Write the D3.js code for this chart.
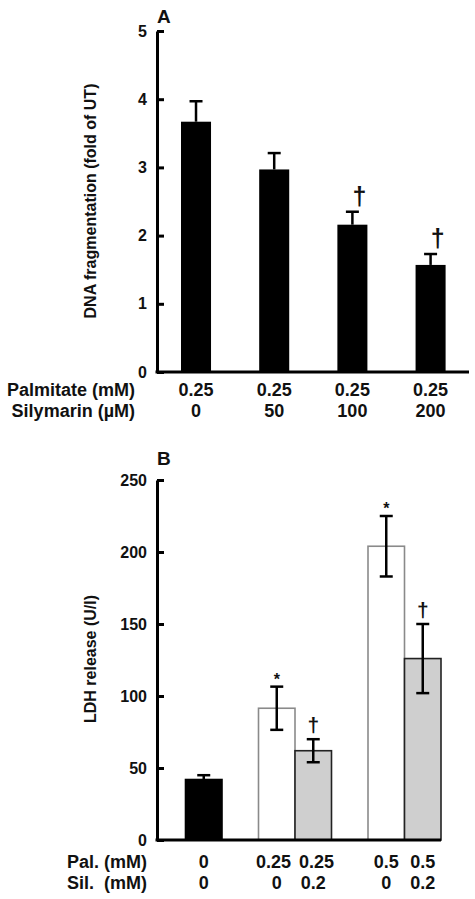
<!DOCTYPE html>
<html>
<head>
<meta charset="utf-8">
<script src="https://cdn.jsdelivr.net/npm/d3@7"></script>
<style>
  html, body { margin: 0; padding: 0; background: #fff; }
  svg text { font-family: "Liberation Sans", Arial, Helvetica, sans-serif; font-weight: bold; fill: #111; }
</style>
</head>
<body>
<svg id="chart" width="475" height="899"></svg>
<script>
// ---------- Panel A data ----------
const catsA = ["a1", "a2", "a3", "a4"];
const palmitateA = ["0.25", "0.25", "0.25", "0.25"];
const silymarinA = ["0", "50", "100", "200"];
const valuesA = [3.67, 2.97, 2.16, 1.57];
const errorsA = [0.30, 0.24, 0.19, 0.16];
const marksA = ["", "", "\u2020", "\u2020"];
const ticksA = [0, 1, 2, 3, 4, 5];

// ---------- Panel B data ----------
const slotsB = ["b1", "gap1", "b2", "b3", "gap2", "b4", "b5"];
const catsB = ["b1", "b2", "b3", "b4", "b5"];
const palB = ["0", "0.25", "0.25", "0.5", "0.5"];
const silB = ["0", "0", "0.2", "0", "0.2"];
const valuesB = [42, 91.5, 62, 204, 126];
const errorsB = [3, 15, 8, 21, 24];
const groupB = ["control", "pal", "sil", "pal", "sil"];
const marksB = ["", "*", "\u2020", "*", "\u2020"];
const ticksB = [0, 50, 100, 150, 200, 250];

const svg = d3.select("#chart");

const fillB = { control: "#000", pal: "#fff", sil: "#cfcfcf" };
const strokeB = { control: "#000", pal: "#8a8a8a", sil: "#222" };

function styleAxis(ax) {
  ax.select(".domain").attr("stroke", "#000").attr("stroke-width", 3);
  ax.selectAll(".tick line").attr("stroke", "#000").attr("stroke-width", 3);
  ax.selectAll(".tick text").attr("font-size", 16).attr("fill", "#111")
    .attr("font-family", "Liberation Sans, Arial, sans-serif").attr("font-weight", "bold");
}

// =============== PANEL A ===============
const axX = 157;
const xA = d3.scaleBand().domain(catsA).range([157, 469.6]).paddingInner(0.616).paddingOuter(0.307);
const yA = d3.scaleLinear().domain([0, 5]).range([372, 31]);
const cxA = d => xA(d) + xA.bandwidth() / 2;

const gA = svg.append("g");

gA.selectAll("rect.bar").data(catsA).join("rect")
  .attr("class", "bar")
  .attr("x", d => xA(d))
  .attr("width", xA.bandwidth())
  .attr("y", (d, i) => yA(valuesA[i]))
  .attr("height", (d, i) => yA(0) - yA(valuesA[i]))
  .attr("fill", "#000");

const capA = 6.5;
gA.selectAll("line.err").data(catsA).join("line")
  .attr("x1", cxA).attr("x2", cxA)
  .attr("y1", (d, i) => yA(valuesA[i]))
  .attr("y2", (d, i) => yA(valuesA[i] + errorsA[i]))
  .attr("stroke", "#000").attr("stroke-width", 2.5);
gA.selectAll("line.cap").data(catsA).join("line")
  .attr("x1", d => cxA(d) - capA).attr("x2", d => cxA(d) + capA)
  .attr("y1", (d, i) => yA(valuesA[i] + errorsA[i]))
  .attr("y2", (d, i) => yA(valuesA[i] + errorsA[i]))
  .attr("stroke", "#000").attr("stroke-width", 2.5);

gA.selectAll("text.mark").data(catsA).join("text")
  .attr("x", d => cxA(d) + 7)
  .attr("y", (d, i) => yA(valuesA[i] + errorsA[i]) - 7)
  .attr("text-anchor", "middle")
  .attr("font-size", 25)
  .text((d, i) => marksA[i]);

const axisA = gA.append("g").attr("transform", `translate(${axX},0)`)
  .call(d3.axisLeft(yA).tickValues(ticksA).tickFormat(d3.format("d")).tickSizeInner(-7).tickSizeOuter(0).tickPadding(10));
styleAxis(axisA);

gA.append("line").attr("x1", axX - 1.5).attr("x2", 469).attr("y1", yA(0)).attr("y2", yA(0))
  .attr("stroke", "#000").attr("stroke-width", 3);

gA.append("text").attr("x", 157).attr("y", 23).attr("font-size", 19).text("A");

gA.append("text").attr("transform", "translate(96,201) rotate(-90)")
  .attr("text-anchor", "middle").attr("font-size", 16)
  .text("DNA fragmentation (fold of UT)");

gA.append("text").attr("x", 135).attr("y", 396).attr("text-anchor", "end").attr("font-size", 18).text("Palmitate (mM)");
gA.append("text").attr("x", 135).attr("y", 417).attr("text-anchor", "end").attr("font-size", 18).text("Silymarin (\u00b5M)");
gA.selectAll("text.pal").data(catsA).join("text")
  .attr("x", cxA).attr("y", 396)
  .attr("text-anchor", "middle").attr("font-size", 18)
  .text((d, i) => palmitateA[i]);
gA.selectAll("text.sil").data(catsA).join("text")
  .attr("x", cxA).attr("y", 417)
  .attr("text-anchor", "middle").attr("font-size", 18)
  .text((d, i) => silymarinA[i]);

// =============== PANEL B ===============
const xB = d3.scaleBand().domain(slotsB).range([185.5, 441]).paddingInner(0).paddingOuter(0);
const yB = d3.scaleLinear().domain([0, 250]).range([840, 480]);
const cx = d => xB(d) + xB.bandwidth() / 2;
const gB = svg.append("g");

gB.selectAll("rect.bar").data(catsB).join("rect")
  .attr("x", d => xB(d))
  .attr("width", xB.bandwidth())
  .attr("y", (d, i) => yB(valuesB[i]))
  .attr("height", (d, i) => yB(0) - yB(valuesB[i]))
  .attr("fill", (d, i) => fillB[groupB[i]])
  .attr("stroke", (d, i) => strokeB[groupB[i]])
  .attr("stroke-width", 1.6);

const capB = 6.5;
gB.selectAll("line.err").data(catsB).join("line")
  .attr("x1", cx).attr("x2", cx)
  .attr("y1", (d, i) => yB(valuesB[i] - errorsB[i]))
  .attr("y2", (d, i) => yB(valuesB[i] + errorsB[i]))
  .attr("stroke", "#000").attr("stroke-width", 2.5);
gB.selectAll("line.capT").data(catsB).join("line")
  .attr("x1", d => cx(d) - capB).attr("x2", d => cx(d) + capB)
  .attr("y1", (d, i) => yB(valuesB[i] + errorsB[i]))
  .attr("y2", (d, i) => yB(valuesB[i] + errorsB[i]))
  .attr("stroke", "#000").attr("stroke-width", 2.5);
gB.selectAll("line.capB").data(catsB).join("line")
  .attr("x1", d => cx(d) - capB).attr("x2", d => cx(d) + capB)
  .attr("y1", (d, i) => yB(valuesB[i] - errorsB[i]))
  .attr("y2", (d, i) => yB(valuesB[i] - errorsB[i]))
  .attr("stroke", "#000").attr("stroke-width", 2.5);

gB.selectAll("text.mark").data(catsB).join("text")
  .attr("x", d => cx(d))
  .attr("y", (d, i) => yB(valuesB[i] + errorsB[i]) - (marksB[i] === "*" ? 2 : 7))
  .attr("text-anchor", "middle")
  .attr("font-size", (d, i) => marksB[i] === "*" ? 16 : 21)
  .text((d, i) => marksB[i]);

const axisB = gB.append("g").attr("transform", `translate(${axX},0)`)
  .call(d3.axisLeft(yB).tickValues(ticksB).tickFormat(d3.format("d")).tickSizeInner(-7).tickSizeOuter(0).tickPadding(10));
styleAxis(axisB);

gB.append("line").attr("x1", axX - 1.5).attr("x2", 441).attr("y1", yB(0)).attr("y2", yB(0))
  .attr("stroke", "#000").attr("stroke-width", 3);

gB.append("text").attr("x", 157).attr("y", 465).attr("font-size", 19).text("B");

gB.append("text").attr("transform", "translate(96,659) rotate(-90)")
  .attr("text-anchor", "middle").attr("font-size", 16)
  .text("LDH release (U/l)");

gB.append("text").attr("x", 147).attr("y", 868).attr("text-anchor", "end").attr("font-size", 18)
  .style("white-space", "pre").text("Pal. (mM)");
gB.append("text").attr("x", 147).attr("y", 889).attr("text-anchor", "end").attr("font-size", 18)
  .style("white-space", "pre").text("Sil.  (mM)");

const palLabels = gB.selectAll("text.pal").data(catsB).join("text")
  .attr("class", "pal")
  .attr("x", cx).attr("y", 868).attr("text-anchor", "middle").attr("font-size", 18)
  .text((d, i) => palB[i]);
gB.selectAll("text.sil").data(catsB).join("text")
  .attr("x", cx).attr("y", 889).attr("text-anchor", "middle").attr("font-size", 18)
  .text((d, i) => silB[i]);

// push apart adjacent labels that would crowd each other
const nodes = palLabels.nodes();
const minGap = 8;
for (let i = 0; i < nodes.length - 1; i++) {
  const a = nodes[i], b = nodes[i + 1];
  const ax = +a.getAttribute("x"), bx = +b.getAttribute("x");
  const wa = a.getComputedTextLength(), wb = b.getComputedTextLength();
  const gap = (bx - wb / 2) - (ax + wa / 2);
  if (gap < minGap) {
    const push = (minGap - gap) / 2;
    a.setAttribute("x", ax - push);
    b.setAttribute("x", bx + push);
  }
}
</script>
</body>
</html>
